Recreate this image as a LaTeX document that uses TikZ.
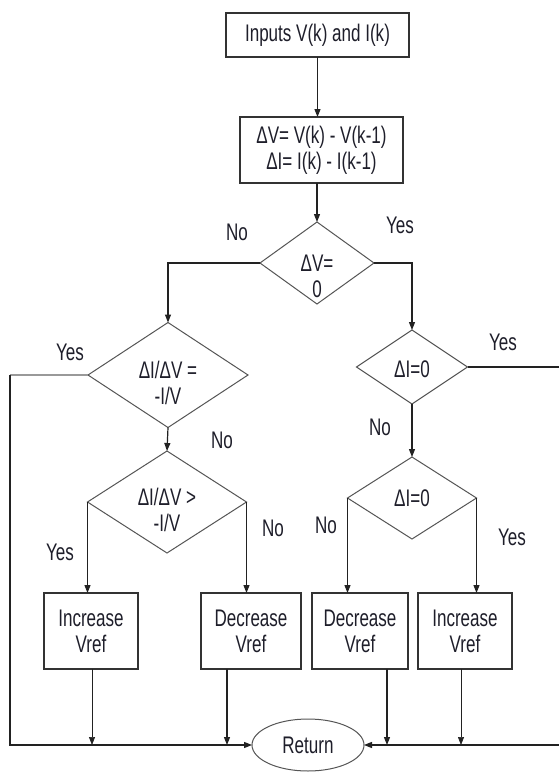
\documentclass[tikz,border=0pt]{standalone}
\usepackage{fontspec}
\setmainfont[FakeStretch=0.71]{Liberation Sans}
\usetikzlibrary{shapes.geometric,arrows.meta}
\definecolor{txt}{HTML}{1E1E2A}
\definecolor{boxc}{HTML}{333333}
\definecolor{diac}{HTML}{555555}
\definecolor{linec}{HTML}{222222}
\begin{document}
\begin{tikzpicture}[x=1pt,y=-1pt,
  every node/.style={font=\fontsize{24}{26}\selectfont, text=txt, align=center},
  box/.style={draw=boxc, line width=1.5, inner sep=0, outer sep=0},
  dia/.style={draw=diac, line width=1, shape=diamond, inner sep=0, outer sep=0},
  conn/.style={draw=linec, line width=1.2, -{Triangle[length=8,width=6]}},
  thinconn/.style={conn, line width=0.7}
]
\useasboundingbox[fill=white] (0,0) rectangle (558,772);

% boxes
\node[box, minimum width=183, minimum height=44] (in) at (317.5,35) {Inputs V(k) and I(k)};
\node[box, minimum width=163, minimum height=66] (dlt) at (321.5,150) {ΔV= V(k) - V(k-1)\\ΔI= I(k) - I(k-1)};

% diamonds
\node[dia, minimum width=114, minimum height=82] (d1) at (317,263) {};
\node (t1) at (317,276) {ΔV=\\0};
\node[dia, minimum width=160, minimum height=105] (d2) at (168,375) {};
\node (t2) at (168,383) {ΔI/ΔV =\\-I/V};
\node[dia, minimum width=159, minimum height=102] (d4) at (167,502) {};
\node (t4) at (167,510) {ΔI/ΔV >\\-I/V};
\node[dia, minimum width=111, minimum height=74] (d3) at (412,367) {};
\node (t3) at (412,369) {ΔI=0};
\node[dia, minimum width=129, minimum height=82] (d5) at (412,498) {};
\node (t5) at (412,498) {ΔI=0};

% action boxes
\node[box, minimum width=94, minimum height=76] (b1) at (91,631) {Increase\\Vref};
\node[box, minimum width=100, minimum height=76] (b2) at (251,631) {Decrease\\Vref};
\node[box, minimum width=96, minimum height=76] (b3) at (360,631) {Decrease\\Vref};
\node[box, minimum width=94, minimum height=76] (b4) at (465,631) {Increase\\Vref};

% return
\node[draw=diac, line width=1, ellipse, minimum width=112, minimum height=52, inner sep=0, outer sep=0] (ret) at (308,745) {Return};

% connectors
\draw[conn] (in.south) -- (in.south |- dlt.north);
\draw[conn] (d1.north |- dlt.south) -- (d1.north);
\draw[conn] (d1.west) -| (d2.north);
\draw[conn] (d1.east) -| (d3.north);
\draw[conn] (d2.south) -- (d4.north);
\draw[conn] (d3.south) -- (d5.north);
\draw[conn] (d4.west) -- (d4.west |- b1.north);
\draw[conn] (d4.east) -- (d4.east |- b2.north);
\draw[conn] (d5.west) -- (d5.west |- b3.north);
\draw[conn] (d5.east) -- (d5.east |- b4.north);

\coordinate (lc) at (10,375);
\coordinate (rc) at (575,367);
\draw[draw=black!40, line width=1.2] (d2.west) -- (lc);
\draw[conn] (lc) |- (ret.west);
\draw[conn] (d3.east) -- (rc) |- (ret.east);

\draw[thinconn] ([xshift=1]b1.south) -- ([xshift=1]b1.south |- ret.west);
\draw[conn] ([xshift=-24]b2.south) -- ([xshift=-24]b2.south |- ret.west);
\draw[conn] ([xshift=27]b3.south) -- ([xshift=27]b3.south |- ret.east);
\draw[thinconn] ([xshift=-4]b4.south) -- ([xshift=-4]b4.south |- ret.east);

% labels
\node (l1) at (237,232) {No};
\node (l2) at (400,225) {Yes};
\node (l3) at (70,352) {Yes};
\node (l4) at (222,440) {No};
\node (l5) at (503,342) {Yes};
\node (l6) at (380,427) {No};
\node (l7) at (60,552) {Yes};
\node (l8) at (273,528) {No};
\node (l9) at (326,525) {No};
\node (l10) at (512,537) {Yes};
\end{tikzpicture}
\end{document}
